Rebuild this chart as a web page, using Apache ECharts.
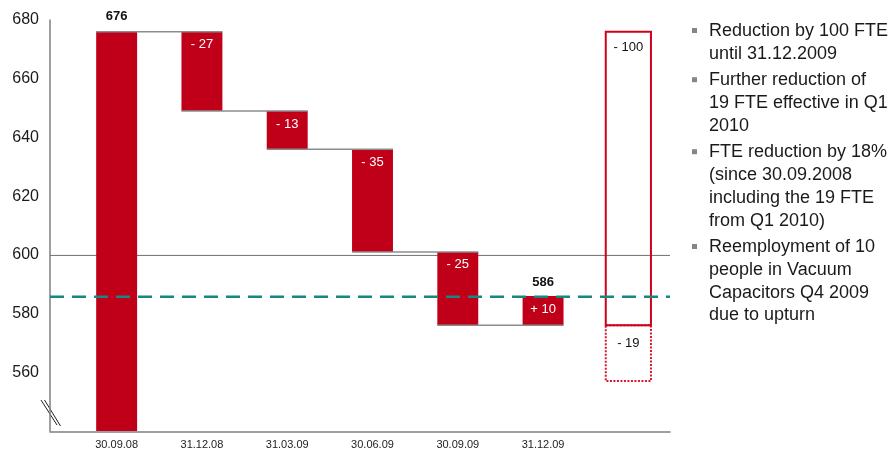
<!DOCTYPE html>
<html>
<head>
<meta charset="utf-8">
<title>FTE development</title>
<script src="https://cdn.jsdelivr.net/npm/echarts@6/dist/echarts.min.js"></script>
<style>
  html, body { margin: 0; padding: 0; background: #ffffff; }
  #chart { width: 893px; height: 450px; }
</style>
</head>
<body>
<div id="chart"></div>
<script>
// Headcount bridge in FTE, by quarter-end date
const categories = ['30.09.08', '31.12.08', '31.03.09', '30.06.09', '30.09.09', '31.12.09', ''];
const startTotal = 676;
const quarterChanges = [-27, -13, -35, -25, 10];
const endTotal = 586;
const plannedCuts = [-100, -19];
const referenceLevel = 600;
const yTicks = [540, 560, 580, 600, 620, 640, 660, 680];
const notes = [
  ['Reduction by 100 FTE', 'until 31.12.2009'],
  ['Further reduction of', '19 FTE effective in Q1', '2010'],
  ['FTE reduction by 18%', '(since 30.09.2008', 'including the 19 FTE', 'from Q1 2010)'],
  ['Reemployment of 10', 'people in Vacuum', 'Capacitors Q4 2009', 'due to upturn']
];

const FONT = '"Liberation Sans", Arial, sans-serif';
const RED = '#c00018';
const yMin = yTicks[0];
const yMax = yTicks[yTicks.length - 1];
const yStep = yTicks[1] - yTicks[0];

const fmtDelta = d => (d < 0 ? '- ' : '+ ') + Math.abs(d);

// Bar segments: [categoryIndex, from, to, kind, label]
const segments = [];
segments.push([0, yMin, startTotal, 'total', String(startTotal)]);
const connectors = []; // [categoryIndex, level] joins bar i to bar i+1
let level = startTotal;
connectors.push([0, level]);
quarterChanges.forEach((d, i) => {
  segments.push([i + 1, level, level + d, 'delta', fmtDelta(d)]);
  level += d;
  if (i < quarterChanges.length - 1) connectors.push([i + 1, level]);
});
segments.push([quarterChanges.length, endTotal, endTotal, 'endLabel', String(endTotal)]);

// Planned reductions box, stacked down from the starting headcount
let planLevel = startTotal;
const planSegs = [];
plannedCuts.forEach((d, i) => {
  planSegs.push([categories.length - 1, planLevel, planLevel + d, i === 0 ? 'plan' : 'planDotted', fmtDelta(d)]);
  planLevel += d;
});
// dotted part first so the solid outline sits on top of the shared edge
segments.push(planSegs[1], planSegs[0]);

function renderBar(params, api) {
  const seg = segments[params.dataIndex];
  const [cat, from, to, kind, label] = seg;
  const band = api.size([1, 0])[0];
  const top = api.coord([cat, Math.max(from, to)]);
  const bot = api.coord([cat, Math.min(from, to)]);
  const cx = top[0];
  const h = bot[1] - top[1];
  const children = [];
  if (kind === 'total' || kind === 'delta') {
    const w = band * 0.48;
    children.push({ type: 'rect', shape: { x: cx - w / 2, y: top[1], width: w, height: h },
      style: { fill: RED } });
    if (kind === 'total') {
      children.push({ type: 'text', style: { text: label, x: cx, y: top[1] - 15, align: 'center',
        verticalAlign: 'middle', font: 'bold 13px ' + FONT, fill: '#111' } });
    } else {
      children.push({ type: 'text', style: { text: label, x: cx, y: top[1] + Math.min(13, h / 2), align: 'center',
        verticalAlign: 'middle', font: '13px ' + FONT, fill: '#ffffff' } });
    }
  } else if (kind === 'endLabel') {
    children.push({ type: 'text', style: { text: label, x: cx, y: top[1] - 14, align: 'center',
      verticalAlign: 'middle', font: 'bold 13px ' + FONT, fill: '#111' } });
  } else {
    const w = band * 0.53;
    const dotted = kind === 'planDotted';
    children.push({ type: 'rect', shape: { x: cx - w / 2, y: top[1], width: w, height: h },
      style: { fill: null, stroke: dotted ? '#d8182f' : '#d0021b', lineWidth: 2, lineDash: dotted ? [2, 1.5] : null } });
    children.push({ type: 'text', style: { text: label, x: cx, y: top[1] + (dotted ? 18 : 16), align: 'center',
      verticalAlign: 'middle', font: '13px ' + FONT, fill: '#111' } });
  }
  return { type: 'group', children };
}

function renderConnector(params, api) {
  const [i, lvl] = connectors[params.dataIndex];
  const w = api.size([1, 0])[0] * 0.48;
  const a = api.coord([i, lvl]);
  const b = api.coord([i + 1, lvl]);
  return { type: 'line', shape: { x1: a[0] - w / 2, y1: a[1], x2: b[0] + w / 2, y2: b[1] },
    style: { stroke: '#8c8c8c', lineWidth: 1.5 } };
}

// Bullet notes on the right
const graphic = [];
const noteX = 709, lineH = 22.8, paraGap = 26.4;
let ny = 31;
notes.forEach(para => {
  graphic.push({ type: 'rect', shape: { x: 692, y: ny - 3, width: 5, height: 5 }, style: { fill: '#858585' } });
  para.forEach((line, k) => {
    graphic.push({ type: 'text', style: { text: line, x: noteX, y: ny, verticalAlign: 'middle',
      font: '18px ' + FONT, fill: '#1a1a1a' } });
    if (k < para.length - 1) ny += lineH;
  });
  ny += paraGap;
});
// axis break marks
graphic.push({ type: 'line', shape: { x1: 41, y1: 400, x2: 57, y2: 425 }, style: { stroke: '#222', lineWidth: 1 } });
graphic.push({ type: 'line', shape: { x1: 44.5, y1: 400, x2: 60.5, y2: 426 }, style: { stroke: '#222', lineWidth: 1 } });

const chart = echarts.init(document.getElementById('chart'), null, { renderer: 'canvas' });
chart.setOption({
  animation: false,
  backgroundColor: '#ffffff',
  textStyle: { fontFamily: FONT },
  grid: [
    { left: 74, right: 222, top: 20, bottom: 18 },
    { left: 50, right: 223, top: 20, bottom: 18 }
  ],
  xAxis: [
    { type: 'category', gridIndex: 0, data: categories,
      axisLine: { show: false }, axisTick: { show: false }, splitLine: { show: false },
      axisLabel: { fontSize: 11, color: '#222', margin: 8, fontFamily: FONT } },
    { type: 'value', gridIndex: 1, min: 0, max: 1,
      axisLine: { show: true, onZero: false, lineStyle: { color: '#7f7f7f', width: 1.5 } },
      axisTick: { show: false }, axisLabel: { show: false }, splitLine: { show: false } }
  ],
  yAxis: [
    { type: 'value', gridIndex: 0, min: yMin, max: yMax, interval: yStep, offset: 24,
      axisLine: { show: true, lineStyle: { color: '#7f7f7f', width: 1.5 } },
      axisTick: { show: false }, splitLine: { show: false },
      axisLabel: { fontSize: 16, color: '#1a1a1a', margin: 11, fontFamily: FONT,
        formatter: v => (v === yMin ? '' : String(v)) } },
    { type: 'value', gridIndex: 1, min: yMin, max: yMax, show: false }
  ],
  series: [
    { type: 'custom', xAxisIndex: 0, yAxisIndex: 0, renderItem: renderBar,
      data: segments.map(s => [s[0], s[1], s[2]]), z: 2, clip: false },
    { type: 'custom', xAxisIndex: 0, yAxisIndex: 0, renderItem: renderConnector,
      data: connectors.map(c => [c[0], c[1]]), z: 3 },
    { type: 'line', xAxisIndex: 1, yAxisIndex: 1, symbol: 'none', silent: true, z: 1,
      data: [[0, referenceLevel], [1, referenceLevel]],
      lineStyle: { color: '#707070', width: 1 } },
    { type: 'line', xAxisIndex: 1, yAxisIndex: 1, symbol: 'none', silent: true, z: 4,
      data: [[0, endTotal], [1, endTotal]],
      lineStyle: { color: '#17877f', width: 2.5, type: [14, 8] } }
  ],
  graphic
});
</script>
</body>
</html>
